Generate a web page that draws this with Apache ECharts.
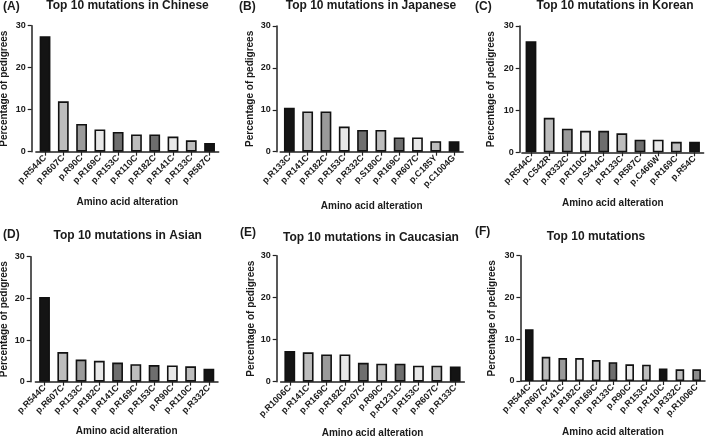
<!DOCTYPE html>
<html><head><meta charset="utf-8">
<script src="https://cdn.jsdelivr.net/npm/echarts@6/dist/echarts.min.js"></script>
<style>html,body{margin:0;padding:0;background:#fff}#c{width:709px;height:442px}</style>
</head><body><div id="c"></div>
<script>
// ---- data ----
const titlesList = ['Top 10 mutations in Chinese','Top 10 mutations in Japanese','Top 10 mutations in Korean','Top 10 mutations in Asian','Top 10 mutations in Caucasian','Top 10 mutations'];
const panelLetters = ['(A)','(B)','(C)','(D)','(E)','(F)'];
const catsA = ['p.R544C','p.R607C','p.R90C','p.R169C','p.R153C','p.R110C','p.R182C','p.R141C','p.R133C','p.R587C'];
const valsA = [27.5, 12.0, 6.6, 5.3, 4.7, 4.1, 4.1, 3.6, 2.7, 2.1];
const catsB = ['p.R133C','p.R141C','p.R182C','p.R153C','p.R332C','p.S180C','p.R169C','p.R607C','p.C185Y','p.C1004G'];
const valsB = [10.5, 9.6, 9.6, 6.0, 5.2, 5.2, 3.4, 3.4, 2.5, 2.5];
const catsC = ['p.R544C','p.C542R','p.R332C','p.R110C','p.S414C','p.R133C','p.R587C','p.C466W','p.R169C','p.R54C'];
const valsC = [26.4, 8.2, 5.6, 5.1, 5.1, 4.5, 3.0, 3.0, 2.5, 2.5];
const catsD = ['p.R544C','p.R607C','p.R133C','p.R182C','p.R141C','p.R169C','p.R153C','p.R90C','p.R110C','p.R332C'];
const valsD = [20.3, 7.1, 5.3, 5.0, 4.6, 4.2, 4.0, 3.9, 3.7, 3.1];
const catsE = ['p.R1006C','p.R141C','p.R169C','p.R182C','p.R207C','p.R90C','p.R1231C','p.R153C','p.R607C','p.R133C'];
const valsE = [7.3, 7.0, 6.5, 6.5, 4.5, 4.3, 4.3, 3.8, 3.8, 3.6];
const catsF = ['p.R544C','p.R607C','p.R141C','p.R182C','p.R169C','p.R133C','p.R90C','p.R153C','p.R110C','p.R332C','p.R1006C'];
const valsF = [12.4, 5.8, 5.5, 5.5, 5.0, 4.5, 4.0, 3.9, 3.0, 2.8, 2.8];
const yTicks = [0, 10, 20, 30];
const yAxisName = 'Percentage of pedigrees';
const xAxisName = 'Amino acid alteration';

// ---- styles ----
const K = '#141414', L = '#bdbdbd', M = '#9a9a9a', VL = '#e8e8e8', DK = '#6e6e6e', M2 = '#8c8c8c';
const pal10 = [K, L, M, VL, DK, L, DK, VL, L, K];
const palF = [K, L, M, VL, L, DK, VL, L, K, L, M2];
const FONT = '"Liberation Sans", Arial, Helvetica, sans-serif';
const TXT = '#1a1a1a';

const layouts = [
  {left:35.9, top:25.7, width:182.8, height:126, off:4.2, yGap:22, xGap:46, bw:10.8, tx:127.5, ty:0, lx:3, ly:1},
  {left:280.2, top:26, width:183, height:125.7, off:3.5, yGap:21, xGap:50, bw:10.8, tx:371, ty:0, lx:239, ly:1},
  {left:521.9, top:26, width:181.7, height:126.3, off:2.2, yGap:23.5, xGap:46, bw:10.8, tx:615, ty:0, lx:475, ly:1},
  {left:35.4, top:256.7, width:182.6, height:125, off:4.7, yGap:21, xGap:45, bw:10.8, tx:127.7, ty:230, lx:3, ly:229},
  {left:280.6, top:255.7, width:183.8, height:126, off:3.9, yGap:20.5, xGap:47, bw:10.8, tx:371, ty:231.5, lx:240, ly:227},
  {left:520.9, top:255.7, width:184.1, height:125.3, off:0.5, yGap:23.5, xGap:46, bw:8.6, tx:596, ty:231, lx:475, ly:226}
];
const allCats = [catsA, catsB, catsC, catsD, catsE, catsF];
const allVals = [valsA, valsB, valsC, valsD, valsE, valsF];
const allPals = [pal10, pal10, pal10, pal10, pal10, palF];

const grid = [], xAxis = [], yAxis = [], series = [], graphic = [];
layouts.forEach((g, i) => {
  grid.push({left:g.left, top:g.top, width:g.width, height:g.height, containLabel:false, outerBoundsMode:'none'});
  const axLine = {show:true, lineStyle:{color:'#222', width:1.5}};
  xAxis.push({
    type:'category', gridIndex:i, data:allCats[i], boundaryGap:true,
    axisLine:axLine,
    axisTick:{show:true, alignWithLabel:true, length:4, lineStyle:{color:'#222', width:1.2}},
    axisLabel:{interval:0, rotate:45, margin:5, fontSize:9, fontWeight:'bold', color:TXT, fontFamily:FONT},
    name:xAxisName, nameLocation:'middle', nameGap:g.xGap,
    nameTextStyle:{fontSize:10, fontWeight:'bold', color:TXT, fontFamily:FONT}
  });
  yAxis.push({
    type:'value', gridIndex:i, min:yTicks[0], max:yTicks[yTicks.length-1], interval:yTicks[1]-yTicks[0],
    offset:g.off,
    axisLine:axLine,
    axisTick:{show:true, length:4, lineStyle:{color:'#222', width:1.2}},
    splitLine:{show:false},
    axisLabel:{margin:6, fontSize:9, fontWeight:'bold', color:TXT, fontFamily:FONT},
    name:yAxisName, nameLocation:'middle', nameGap:g.yGap,
    nameTextStyle:{fontSize:10, fontWeight:'bold', color:TXT, fontFamily:FONT}
  });
  series.push({
    type:'bar', xAxisIndex:i, yAxisIndex:i, barWidth:g.bw,
    data:allVals[i].map((v, j) => ({value:v, itemStyle:{color:allPals[i][j % allPals[i].length], borderColor:'#111', borderWidth:1.6}})),
    itemStyle:{borderColor:'#111', borderWidth:1.6},
    emphasis:{disabled:true}, silent:true
  });
  graphic.push({type:'text', x:g.tx, y:g.ty, silent:true,
    style:{text:titlesList[i], align:'center', verticalAlign:'top', fill:TXT, font:'bold 12px ' + FONT}});
  graphic.push({type:'text', x:g.lx, y:g.ly, silent:true,
    style:{text:panelLetters[i], align:'left', verticalAlign:'top', fill:TXT, font:'bold 12px ' + FONT}});
});

const chart = echarts.init(document.getElementById('c'), null, {renderer:'canvas'});
chart.setOption({animation:false, backgroundColor:'#fff', grid, xAxis, yAxis, series, graphic});
</script></body></html>
